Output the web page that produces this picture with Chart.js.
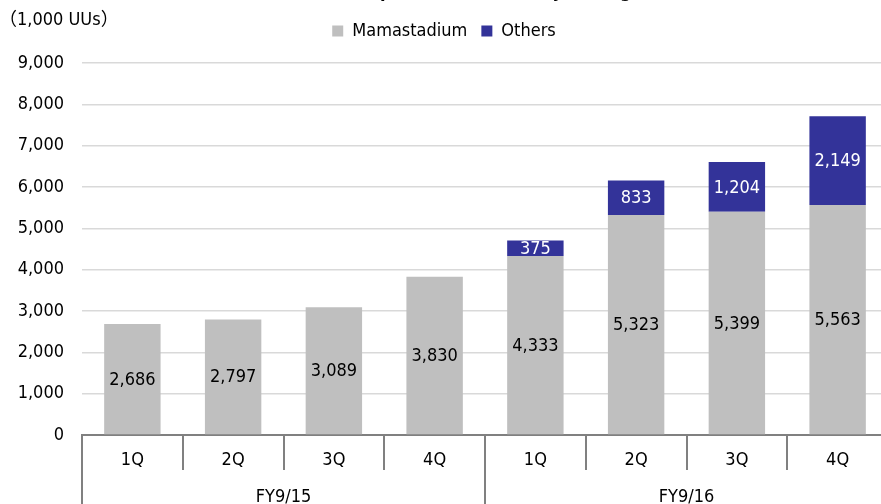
<!DOCTYPE html>
<html>
<head>
<meta charset="utf-8">
<script src="https://cdn.jsdelivr.net/npm/chart.js@4"></script>
<style>
  html, body { margin: 0; padding: 0; background: #fff; overflow: hidden; }
  #wrap { width: 888px; height: 512px; position: relative; }
</style>
</head>
<body>
<div id="wrap"><canvas id="uu-chart"></canvas></div>
<script>
"use strict";

const quarters = ["1Q", "2Q", "3Q", "4Q", "1Q", "2Q", "3Q", "4Q"];
const fiscalYears = ["FY9/15", "FY9/16"];
const mamastadium = [2686, 2797, 3089, 3830, 4333, 5323, 5399, 5563];
const others = [null, null, null, null, 375, 833, 1204, 2149];
const yTicks = [0, 1000, 2000, 3000, 4000, 5000, 6000, 7000, 8000, 9000];

const FONT = "'Liberation Sans Narrow', 'DejaVu Sans Condensed', 'Noto Sans CJK JP', sans-serif";

// 棒の中央に数値を描く
const barLabels = {
    id: "barLabels",
    afterDatasetsDraw(chart) {
        const ctx = chart.ctx;
        ctx.save();
        ctx.font = "18px " + FONT;
        ctx.textAlign = "center";
        ctx.textBaseline = "middle";
        chart.data.datasets.forEach((ds, i) => {
            const meta = chart.getDatasetMeta(i);
            meta.data.forEach((bar, j) => {
                const v = ds.data[j];
                if (v == null) return;
                const p = bar.getProps(["x", "y", "base"], true);
                ctx.fillStyle = i === 0 ? "#000" : "#fff";
                ctx.fillText(v.toLocaleString("en-US"), p.x, (p.y + p.base) / 2 + 1);
            });
        });
        ctx.restore();
    },
};

// 上部の文字（単位・切れたタイトル）
const headerText = {
    id: "headerText",
    afterInit(chart) {
        // 凡例の下に余白を足す
        if (chart.legend) {
            const fit = chart.legend.fit;
            chart.legend.fit = function () {
                fit.call(this);
                this.height += 13;
            };
        }
    },
    afterDraw(chart) {
        const ctx = chart.ctx;
        ctx.save();
        ctx.fillStyle = "#000";
        ctx.font = "18px " + FONT;
        ctx.textAlign = "left";
        ctx.textBaseline = "middle";
        ctx.fillText("（1,000 UUs）", -1, 20);
        ctx.font = "bold 18px " + FONT;
        ctx.textAlign = "right";
        ctx.textBaseline = "alphabetic";
        ctx.fillText("Number of UUs per month (monthly average)", 650, -3);
        ctx.restore();
    },
};

new Chart(document.getElementById("uu-chart"), {
    type: "bar",
    data: {
        labels: quarters,
        datasets: [
            {
                label: "Mamastadium",
                data: mamastadium,
                backgroundColor: "#bfbfbf",
                barPercentage: 0.56,
                categoryPercentage: 1,
            },
            {
                label: "Others",
                data: others,
                backgroundColor: "#333399",
                barPercentage: 0.56,
                categoryPercentage: 1,
            },
        ],
    },
    options: {
        responsive: true,
        maintainAspectRatio: false,
        animation: false,
        layout: { padding: { top: 8, left: 0, right: 0, bottom: 0 } },
        scales: {
            x: {
                stacked: true,
                offset: true,
                border: { display: true, color: "#808080", width: 2 },
                grid: {
                    offset: true,
                    drawOnChartArea: false,
                    tickLength: 35,
                    color: "#808080",
                    lineWidth: 2,
                },
                ticks: {
                    padding: -20,
                    color: "#000",
                    font: { family: FONT, size: 18 },
                    maxRotation: 0,
                },
                afterFit(scale) { scale.height = 35; },
            },
            x2: {
                type: "category",
                labels: fiscalYears,
                position: "bottom",
                offset: true,
                border: { display: false },
                grid: {
                    offset: true,
                    drawOnChartArea: false,
                    tickLength: 45,
                    color: "#808080",
                    lineWidth: 2,
                },
                ticks: {
                    padding: -28,
                    color: "#000",
                    font: { family: FONT, size: 18 },
                    maxRotation: 0,
                },
                afterFit(scale) { scale.height = 42; },
            },
            y: {
                stacked: true,
                min: 0,
                max: 9000,
                border: { display: false },
                grid: { color: "#d9d9d9", lineWidth: 1.5, drawTicks: false },
                afterBuildTicks(scale) {
                    scale.ticks = yTicks.map((v) => ({ value: v }));
                },
                afterFit(scale) { scale.width = 82; },
                ticks: {
                    padding: 18,
                    color: "#000",
                    font: { family: FONT, size: 18 },
                    callback: (v) => v.toLocaleString("en-US"),
                },
            },
        },
        plugins: {
            legend: {
                display: true,
                position: "top",
                labels: {
                    boxWidth: 11,
                    boxHeight: 11,
                    padding: 14,
                    color: "#000",
                    font: { family: FONT, size: 18 },
                },
            },
            tooltip: { enabled: false },
        },
    },
    plugins: [barLabels, headerText],
});
</script>
</body>
</html>
